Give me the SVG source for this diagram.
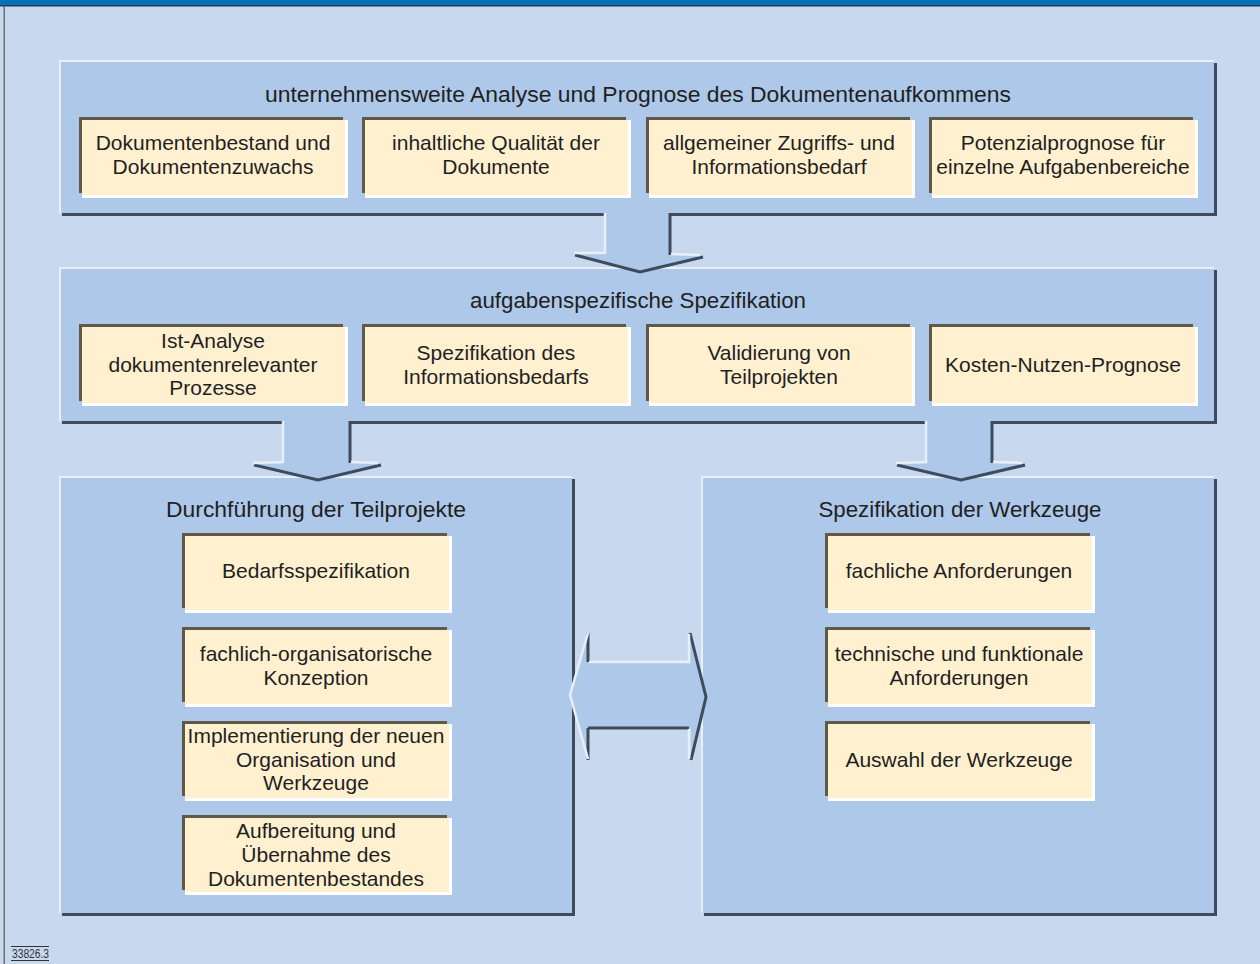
<svg xmlns="http://www.w3.org/2000/svg" width="1260" height="964" viewBox="0 0 1260 964">
<style>
.bg{fill:#c8d8ee}
.pl{fill:#e8eff9}
.pd{fill:#3e4a5d}
.pf{fill:#adc8e8}
.cd{fill:#5f594a}
.cw{fill:#ffffff}
.cc{fill:#fff0d0}
.t{font-family:"Liberation Sans",Arial,sans-serif;font-size:21px;fill:#1f1f1f;text-anchor:middle}
.h{font-family:"Liberation Sans",Arial,sans-serif;font-size:22px;fill:#1f1f1f;text-anchor:middle}
.ed{fill:none;stroke:#3e4a5d;stroke-width:3}
.el{fill:none;stroke:#e8eff9;stroke-width:2.5}
</style>
<rect x="0" y="0" width="1260" height="964" class="bg"/>
<rect x="0" y="0" width="1260" height="5" fill="#0072bc"/>
<rect x="0" y="5" width="1260" height="1.5" fill="#2b3a4f"/>
<rect x="3.5" y="6" width="1.5" height="958" fill="#6e6e6e"/>

<g id="panel1">
<rect x="62" y="63" width="1155" height="153" class="pd"/>
<rect x="59" y="60" width="1155" height="153" class="pl"/>
<rect x="61" y="62" width="1153" height="151" class="pf"/>
<text class="h" x="638" y="102" textLength="746" lengthAdjust="spacingAndGlyphs">unternehmensweite Analyse und Prognose des Dokumentenaufkommens</text>
</g>
<g id="card1-1">
<rect x="82" y="120" width="266" height="78" class="cw"/><rect x="79" y="117" width="264" height="76" class="cd"/><rect x="82" y="120" width="263" height="75" class="cc"/>
<text class="t" x="213" y="150">Dokumentenbestand und</text><text class="t" x="213" y="174">Dokumentenzuwachs</text>
</g>
<g id="card1-2">
<rect x="365" y="120" width="266" height="78" class="cw"/><rect x="362" y="117" width="264" height="76" class="cd"/><rect x="365" y="120" width="263" height="75" class="cc"/>
<text class="t" x="496" y="150">inhaltliche Qualität der</text><text class="t" x="496" y="174">Dokumente</text>
</g>
<g id="card1-3">
<rect x="649" y="120" width="266" height="78" class="cw"/><rect x="646" y="117" width="264" height="76" class="cd"/><rect x="649" y="120" width="263" height="75" class="cc"/>
<text class="t" x="779" y="150">allgemeiner Zugriffs- und</text><text class="t" x="779" y="174">Informationsbedarf</text>
</g>
<g id="card1-4">
<rect x="932" y="120" width="266" height="78" class="cw"/><rect x="929" y="117" width="264" height="76" class="cd"/><rect x="932" y="120" width="263" height="75" class="cc"/>
<text class="t" x="1063" y="150">Potenzialprognose für</text><text class="t" x="1063" y="174">einzelne Aufgabenbereiche</text>
</g>

<g id="panel2">
<rect x="62" y="270" width="1155" height="154" class="pd"/>
<rect x="59" y="267" width="1155" height="154" class="pl"/>
<rect x="61" y="269" width="1153" height="152" class="pf"/>
<text class="h" x="638" y="308" textLength="336" lengthAdjust="spacingAndGlyphs">aufgabenspezifische Spezifikation</text>
</g>
<g id="card2-1">
<rect x="82" y="327" width="266" height="79" class="cw"/><rect x="79" y="324" width="264" height="77" class="cd"/><rect x="82" y="327" width="263" height="76" class="cc"/>
<text class="t" x="213" y="348">Ist-Analyse</text><text class="t" x="213" y="372">dokumentenrelevanter</text><text class="t" x="213" y="395">Prozesse</text>
</g>
<g id="card2-2">
<rect x="365" y="327" width="266" height="79" class="cw"/><rect x="362" y="324" width="264" height="77" class="cd"/><rect x="365" y="327" width="263" height="76" class="cc"/>
<text class="t" x="496" y="360">Spezifikation des</text><text class="t" x="496" y="384">Informationsbedarfs</text>
</g>
<g id="card2-3">
<rect x="649" y="327" width="266" height="79" class="cw"/><rect x="646" y="324" width="264" height="77" class="cd"/><rect x="649" y="327" width="263" height="76" class="cc"/>
<text class="t" x="779" y="360">Validierung von</text><text class="t" x="779" y="384">Teilprojekten</text>
</g>
<g id="card2-4">
<rect x="932" y="327" width="266" height="79" class="cw"/><rect x="929" y="324" width="264" height="77" class="cd"/><rect x="932" y="327" width="263" height="76" class="cc"/>
<text class="t" x="1063" y="372">Kosten-Nutzen-Prognose</text>
</g>

<g id="panelL">
<rect x="62" y="479" width="513" height="437" class="pd"/>
<rect x="59" y="476" width="513" height="437" class="pl"/>
<rect x="61" y="478" width="511" height="435" class="pf"/>
<text class="h" x="316" y="517" textLength="300" lengthAdjust="spacingAndGlyphs">Durchführung der Teilprojekte</text>
</g>
<g id="cardL-1">
<rect x="185" y="536" width="267" height="77" class="cw"/><rect x="182" y="533" width="265" height="75" class="cd"/><rect x="185" y="536" width="264" height="74" class="cc"/>
<text class="t" x="316" y="578">Bedarfsspezifikation</text>
</g>
<g id="cardL-2">
<rect x="185" y="630" width="267" height="77" class="cw"/><rect x="182" y="627" width="265" height="75" class="cd"/><rect x="185" y="630" width="264" height="74" class="cc"/>
<text class="t" x="316" y="661">fachlich-organisatorische</text><text class="t" x="316" y="685">Konzeption</text>
</g>
<g id="cardL-3">
<rect x="185" y="724" width="267" height="77" class="cw"/><rect x="182" y="721" width="265" height="75" class="cd"/><rect x="185" y="724" width="264" height="74" class="cc"/>
<text class="t" x="316" y="743">Implementierung der neuen</text><text class="t" x="316" y="767">Organisation und</text><text class="t" x="316" y="790">Werkzeuge</text>
</g>
<g id="cardL-4">
<rect x="185" y="818" width="267" height="77" class="cw"/><rect x="182" y="815" width="265" height="75" class="cd"/><rect x="185" y="818" width="264" height="74" class="cc"/>
<text class="t" x="316" y="838">Aufbereitung und</text><text class="t" x="316" y="862">Übernahme des</text><text class="t" x="316" y="886">Dokumentenbestandes</text>
</g>

<g id="panelR">
<rect x="704" y="479" width="513" height="437" class="pd"/>
<rect x="701" y="476" width="513" height="437" class="pl"/>
<rect x="703" y="478" width="511" height="435" class="pf"/>
<text class="h" x="960" y="517" textLength="283" lengthAdjust="spacingAndGlyphs">Spezifikation der Werkzeuge</text>
</g>
<g id="cardR-1">
<rect x="828" y="536" width="267" height="77" class="cw"/><rect x="825" y="533" width="265" height="75" class="cd"/><rect x="828" y="536" width="264" height="74" class="cc"/>
<text class="t" x="959" y="578">fachliche Anforderungen</text>
</g>
<g id="cardR-2">
<rect x="828" y="630" width="267" height="77" class="cw"/><rect x="825" y="627" width="265" height="75" class="cd"/><rect x="828" y="630" width="264" height="74" class="cc"/>
<text class="t" x="959" y="661">technische und funktionale</text><text class="t" x="959" y="685">Anforderungen</text>
</g>
<g id="cardR-3">
<rect x="828" y="724" width="267" height="77" class="cw"/><rect x="825" y="721" width="265" height="75" class="cd"/><rect x="828" y="724" width="264" height="74" class="cc"/>
<text class="t" x="959" y="767">Auswahl der Werkzeuge</text>
</g>

<g id="connectors">
<g id="arrow1">
<polygon points="605,212 670,212 670,255 703,256 640,272 573,254 605,254" class="pf"/>
<polyline points="670,213 670,255" class="ed"/>
<polyline points="575,255 640,272 703,257" class="ed"/>
<polyline points="605,213 605,253 574,253" class="el"/>
<polyline points="671,254 700,255" class="el"/>
</g>
<g id="arrow2">
<polygon points="283,420 350,420 350,463 381,464 318,480 252,464 283,463" class="pf"/>
<polyline points="350,421 350,463" class="ed"/>
<polyline points="254,465 318,480 381,465" class="ed"/>
<polyline points="283,421 283,462 253,463" class="el"/>
<polyline points="351,462 378,463" class="el"/>
</g>
<g id="arrow3">
<polygon points="926,420 992,420 992,463 1025,464 961,480 895,464 926,463" class="pf"/>
<polyline points="992,421 992,463" class="ed"/>
<polyline points="897,465 961,480 1025,465" class="ed"/>
<polyline points="926,421 926,462 896,463" class="el"/>
<polyline points="993,462 1022,463" class="el"/>
</g>
<g id="arrow-both">
<polygon points="570,695 588,632 588,662 689,662 689,632 706,697 691,761 691,728 588,728 588,760" class="pf"/>
<polyline points="588,633 588,662" class="ed"/>
<polyline points="588,728 689,728" class="ed"/>
<polyline points="588,728 588,760" class="ed"/>
<polyline points="690,633 706,697 691,760" class="ed"/>
<polyline points="588,633 570,695 588,759" class="el"/>
<polyline points="589,662 689,662 689,634" class="el"/>
<polyline points="689,729 689,759" class="el"/>
</g>
</g>

<g id="label">
<rect x="11" y="946" width="38" height="1" fill="#333"/>
<text x="12" y="958" font-family="Liberation Sans,Arial,sans-serif" font-size="12" fill="#333" textLength="37" lengthAdjust="spacingAndGlyphs">33826.3</text>
<rect x="11" y="960" width="38" height="1" fill="#333"/>
</g>
</svg>
